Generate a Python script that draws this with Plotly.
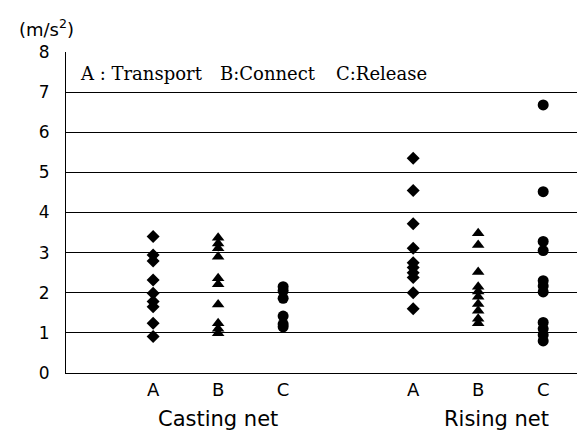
import plotly.graph_objects as go

# Category positions (gap between the two net types)
cat_labels = ["A", "B", "C", "A", "B", "C"]
cat_pos = [1, 2, 3, 5, 6, 7]
group_names = ["Casting net", "Rising net"]
group_centers = [2, 6.28]
legend_parts = ["A : Transport", "B:Connect", "C:Release"]

# Acceleration values (m/s^2)
casting_A = [3.40, 2.94, 2.79, 2.32, 1.99, 1.78, 1.65, 1.24, 0.91]
casting_B = [3.37, 3.23, 3.11, 2.90, 2.36, 2.21, 1.71, 1.24, 1.10, 0.99]
casting_C = [2.15, 2.05, 1.86, 1.42, 1.22, 1.15]
rising_A = [5.35, 4.55, 3.72, 3.11, 2.75, 2.63, 2.50, 2.38, 2.00, 1.60]
rising_B = [3.48, 3.19, 2.52, 2.15, 2.03, 1.90, 1.72, 1.55, 1.35, 1.24]
rising_C = [6.68, 4.52, 3.28, 3.05, 2.30, 2.17, 2.02, 1.26, 1.10, 0.95, 0.80]

y_ticks = [0, 1, 2, 3, 4, 5, 6, 7, 8]

series = [
    (cat_pos[0], casting_A, "diamond", 10),
    (cat_pos[1], casting_B, "triangle-up", 11),
    (cat_pos[2], casting_C, "circle", 11),
    (cat_pos[3], rising_A, "diamond", 10),
    (cat_pos[4], rising_B, "triangle-up", 11),
    (cat_pos[5], rising_C, "circle", 11),
]

fig = go.Figure()
for x, vals, sym, sz in series:
    fig.add_trace(go.Scatter(
        x=[x] * len(vals), y=vals, mode="markers",
        marker=dict(symbol=sym, size=sz, color="black"),
        showlegend=False, hoverinfo="y"))

sans = "DejaVu Sans"
serif = "DejaVu Serif"

# legend text centers, pixels from plot-area left edge
legend_shifts = [75, 202, 315]

fig.update_layout(
    width=577, height=433,
    margin=dict(l=66, r=0, t=52, b=60),
    paper_bgcolor="white", plot_bgcolor="white",
    xaxis=dict(range=[-0.34, 7.52], tickvals=cat_pos, ticktext=cat_labels,
               showgrid=False, zeroline=False, showline=True, linecolor="black",
               linewidth=1, ticks="", tickfont=dict(family=sans, size=18, color="black")),
    yaxis=dict(range=[0, 8], tickvals=y_ticks, showgrid=True, gridcolor="black",
               gridwidth=1, zeroline=False, showline=True, linecolor="black",
               linewidth=1, ticks="", ticklabelstandoff=12,
               tickfont=dict(family=sans, size=17, color="black")),
    annotations=[
        dict(text="(m/s<sup>2</sup>)", x=0, y=1, xref="paper", yref="paper",
             xanchor="center", yanchor="bottom", xshift=-20, yshift=10, showarrow=False,
             font=dict(family=sans, size=18, color="black")),
    ] + [
        dict(text=t, x=0, y=1, xref="paper", yref="paper", xanchor="center",
             yanchor="middle", xshift=s, yshift=-21, showarrow=False,
             font=dict(family=serif, size=18, color="black"))
        for t, s in zip(legend_parts, legend_shifts)
    ] + [
        dict(text=name, x=c, y=0, xref="x", yref="paper", yanchor="top",
             yshift=-32, showarrow=False,
             font=dict(family=sans, size=21, color="black"))
        for name, c in zip(group_names, group_centers)
    ],
)

fig.write_html("out.html")
